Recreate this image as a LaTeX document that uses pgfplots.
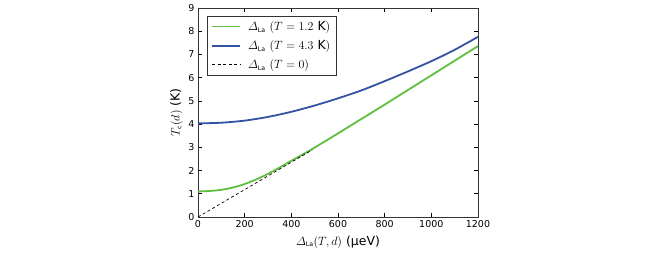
\documentclass[border=0pt]{standalone}
\usepackage{amsmath}
\usepackage{pgfplots}
\pgfplotsset{compat=1.18}
\usepackage{fontspec}
\setmainfont{DejaVu Sans}
\definecolor{cgreen}{RGB}{96,190,64}
\definecolor{cblue}{RGB}{52,82,164}
\begin{document}
\begin{tikzpicture}
\begin{axis}[
  scale only axis,
  width=280pt, height=209pt,
  xmin=0, xmax=1200, ymin=0, ymax=9,
  xtick={0,200,...,1200}, ytick={0,1,...,9},
  tick align=inside,
  major tick length=4pt,
  xtick pos=both, ytick pos=both,
  tick style={black, line width=0.6pt},
  axis line style={line width=0.8pt, black!80},
  /pgf/number format/assume math mode=true,
  /pgf/number format/1000 sep={},
  tick label style={font=\fontsize{9.5}{11}\selectfont},
  xlabel={$\varDelta_{\scriptscriptstyle\mathrm{La}}(T,d)$ (μeV)},
  ylabel={$T_{\scriptscriptstyle\mathrm{c}}(d)$ (K)},
  label style={font=\fontsize{12.5}{14}\selectfont},
  xlabel style={yshift=-1pt},
  ylabel style={yshift=-1pt},
  legend style={at={(0.032,0.962)}, anchor=north west, draw=black!80, line width=0.6pt,
    font=\fontsize{12.5}{15}\selectfont, row sep=4.5pt, inner xsep=4pt, inner ysep=3pt},
  legend cell align=left,
  legend image code/.code={\draw[#1] (0pt,0pt) -- (28pt,0pt); \path (33pt,0pt);},
]
\addplot[cgreen, line width=1.8pt, smooth] coordinates {
(0,1.10) (50,1.12) (100,1.17) (150,1.27) (200,1.42) (250,1.62) (300,1.86) (350,2.13)
(400,2.42) (450,2.70) (500,2.99) (600,3.60) (700,4.22) (800,4.84) (900,5.47)
(1000,6.10) (1100,6.73) (1200,7.36)};
\addlegendentry{$\varDelta_{\scriptscriptstyle\mathrm{La}}$ $(T=1.2$ K$)$}
\addplot[cblue, line width=1.8pt, smooth] coordinates {
(0,4.03) (100,4.06) (200,4.15) (300,4.31) (400,4.53) (500,4.80) (600,5.11)
(700,5.45) (800,5.85) (900,6.27) (1000,6.71) (1100,7.20) (1200,7.76)};
\addlegendentry{$\varDelta_{\scriptscriptstyle\mathrm{La}}$ $(T=4.3$ K$)$}
\addplot[black, line width=0.7pt, dash pattern=on 3pt off 2.5pt] coordinates {(0,0) (490,2.89)};
\addlegendentry{$\varDelta_{\scriptscriptstyle\mathrm{La}}$ $(T=0)$}
\coordinate (SW) at (rel axis cs:0,0);
\coordinate (NE) at (rel axis cs:1,1);
\end{axis}
\path ([shift={(-198pt,-37pt)}]SW) rectangle ([shift={(186pt,8pt)}]NE);
\end{tikzpicture}
\end{document}
